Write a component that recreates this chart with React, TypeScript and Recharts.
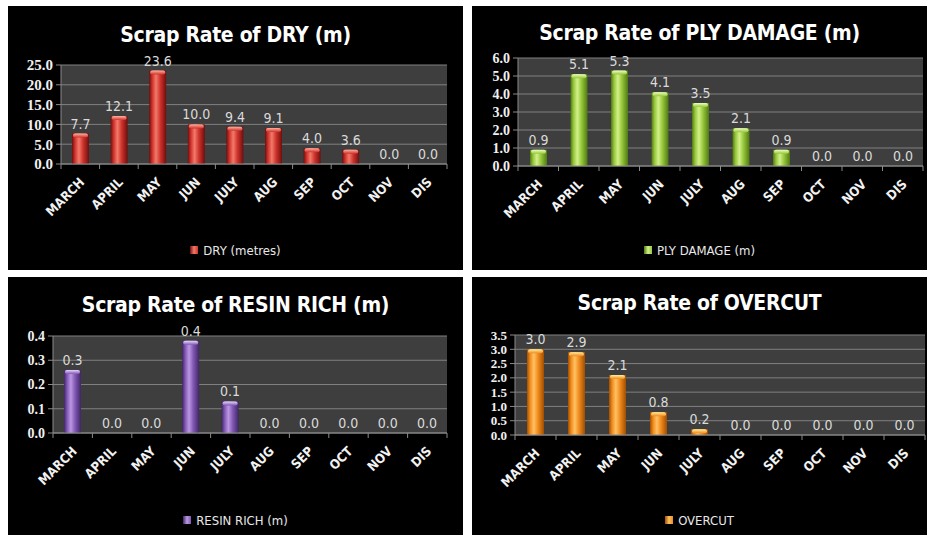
import React from "react";
import {
  BarChart,
  Bar,
  XAxis,
  YAxis,
  CartesianGrid,
  LabelList,
} from "recharts";

const months = ["MARCH", "APRIL", "MAY", "JUN", "JULY", "AUG", "SEP", "OCT", "NOV", "DIS"];

const dryValues = [7.7, 12.1, 23.6, 10.0, 9.4, 9.1, 4.0, 3.6, 0, 0];
const plyValues = [0.9, 5.1, 5.3, 4.1, 3.5, 2.1, 0.9, 0, 0, 0];
const resinValues = [0.26, 0, 0, 0.38, 0.13, 0, 0, 0, 0, 0];
const overcutValues = [3.0, 2.9, 2.1, 0.8, 0.2, 0, 0, 0, 0, 0];

const dryTicks = [0, 5, 10, 15, 20, 25];
const plyTicks = [0, 1, 2, 3, 4, 5, 6];
const resinTicks = [0, 0.1, 0.2, 0.3, 0.4];
const overcutTicks = [0, 0.5, 1, 1.5, 2, 2.5, 3, 3.5];

const titles = [
  "Scrap Rate of DRY (m)",
  "Scrap Rate of PLY DAMAGE (m)",
  "Scrap Rate of RESIN RICH (m)",
  "Scrap Rate of OVERCUT",
];
const legendNames = ["DRY (metres)", "PLY DAMAGE (m)", "RESIN RICH (m)", "OVERCUT"];

const SANS = "DejaVu Sans Condensed, Liberation Sans, sans-serif";
const SERIF = "Liberation Serif, DejaVu Serif, serif";

const palettes = {
  red: { dark: "#6e0e0c", mid: "#cf332c", light: "#f27a6a", cap: "#ffb0a0" },
  green: { dark: "#4f7a12", mid: "#96c63a", light: "#d2f08a", cap: "#eeffc0" },
  purple: { dark: "#3f2664", mid: "#8258b4", light: "#bc98e2", cap: "#e8d4ff" },
  orange: { dark: "#a04e00", mid: "#f08a1c", light: "#ffc264", cap: "#fff0a0" },
};

type Pal = keyof typeof palettes;

const GradientDefs = ({ id, pal }: { id: string; pal: Pal }) => {
  const c = palettes[pal];
  return (
    <defs>
      <linearGradient id={`${id}-body`} x1="0" y1="0" x2="1" y2="0">
        <stop offset="0%" stopColor={c.dark} />
        <stop offset="18%" stopColor={c.mid} />
        <stop offset="40%" stopColor={c.light} />
        <stop offset="65%" stopColor={c.mid} />
        <stop offset="100%" stopColor={c.dark} />
      </linearGradient>
      <linearGradient id={`${id}-cap`} x1="0" y1="0" x2="0" y2="1">
        <stop offset="0%" stopColor={c.cap} />
        <stop offset="100%" stopColor={c.mid} />
      </linearGradient>
    </defs>
  );
};

const makeBarShape = (id: string) => (props: any) => {
  const { x, y, width, height } = props;
  if (!height || height <= 0) return <g />;
  const cap = Math.min(4, height);
  return (
    <g>
      <rect x={x} y={y} width={width} height={height} fill={`url(#${id}-body)`} />
      <rect x={x + 1} y={y} width={width - 2} height={cap} rx={2} fill={`url(#${id}-cap)`} />
    </g>
  );
};

const makeMonthTick = (bw: number, count: number) => (props: any) => {
  const { x, y, payload, index } = props;
  const tx = x + 5;
  const ty = y + 12;
  return (
    <g>
      <line x1={x - bw / 2} x2={x - bw / 2} y1={y - 7} y2={y - 2} stroke="#8a8a8a" />
      {index === count - 1 && (
        <line x1={x + bw / 2} x2={x + bw / 2} y1={y - 7} y2={y - 2} stroke="#8a8a8a" />
      )}
      <text
        x={tx}
        y={ty}
        transform={`rotate(-45, ${tx}, ${ty})`}
        textAnchor="end"
        fill="#f2f2f2"
        fontFamily={SANS}
        fontWeight="bold"
        fontSize={13}
      >
        {payload.value}
      </text>
    </g>
  );
};

type PanelProps = {
  idx: number;
  left: number;
  top: number;
  width: number;
  height: number;
  values: number[];
  ticks: number[];
  pal: Pal;
  plot: { l: number; t: number; r: number; b: number };
  titleY: number;
  legendY: number;
  yFont: number;
};

function Panel(p: PanelProps) {
  const id = `g${p.idx}`;
  const data = months.map((m, i) => ({ month: m, value: p.values[i] }));
  const xAxisHeight = 60;
  const plotW = p.plot.r - p.plot.l;
  const bw = plotW / months.length;
  const c = palettes[p.pal];
  return (
    <div
      style={{
        position: "absolute",
        left: p.left,
        top: p.top,
        width: p.width,
        height: p.height,
        background: "#000",
        overflow: "hidden",
      }}
    >
      <div
        style={{
          position: "absolute",
          left: 0,
          width: p.width,
          top: p.titleY - 14,
          lineHeight: "28px",
          textAlign: "center",
          color: "#fff",
          fontFamily: SANS,
          fontWeight: "bold",
          fontSize: 21,
          letterSpacing: -0.3,
        }}
      >
        {titles[p.idx]}
      </div>
      <BarChart
        width={p.width}
        height={p.height}
        data={data}
        margin={{
          top: p.plot.t,
          right: p.width - p.plot.r,
          left: 0,
          bottom: p.height - p.plot.b - xAxisHeight,
        }}
      >
        <GradientDefs id={id} pal={p.pal} />
        <CartesianGrid vertical={false} fill="#3e3e3e" stroke="#808080" />
        <XAxis
          dataKey="month"
          height={xAxisHeight}
          interval={0}
          tickSize={5}
          tickMargin={2}
          tickLine={false}
          axisLine={{ stroke: "#8a8a8a" }}
          tick={makeMonthTick(bw, months.length)}
        />
        <YAxis
          width={p.plot.l}
          domain={[p.ticks[0], p.ticks[p.ticks.length - 1]]}
          ticks={p.ticks}
          interval={0}
          tickSize={5}
          tickMargin={3}
          axisLine={{ stroke: "#8a8a8a" }}
          tickLine={{ stroke: "#8a8a8a" }}
          tickFormatter={(v: number) => v.toFixed(1)}
          tick={{ fill: "#f0f0f0", fontFamily: SERIF, fontWeight: "bold", fontSize: p.yFont }}
        />
        <Bar
          dataKey="value"
          isAnimationActive={false}
          fill={c.mid}
          barSize={17}
          shape={makeBarShape(id)}
        >
          <LabelList
            dataKey="value"
            position="top"
            offset={5}
            formatter={(v: any) => Number(v).toFixed(1)}
            fill="#dadada"
            fontFamily={SANS}
            fontSize={14}
          />
        </Bar>
      </BarChart>
      <div
        style={{
          position: "absolute",
          left: 0,
          width: p.width,
          top: p.legendY - 8,
          height: 16,
          display: "flex",
          alignItems: "center",
          justifyContent: "center",
          gap: 5,
          color: "#e8e8e8",
          fontFamily: SANS,
          fontSize: 13,
        }}
      >
        <span
          style={{
            display: "inline-block",
            width: 8,
            height: 8,
            background: `linear-gradient(to right, ${c.dark}, ${c.light}, ${c.mid})`,
          }}
        />
        <span>{legendNames[p.idx]}</span>
      </div>
    </div>
  );
}

export default function App() {
  return (
    <div style={{ position: "absolute", left: 0, top: 0, width: 927, height: 535, background: "#fff" }}>
      <Panel
        idx={0}
        left={8}
        top={6}
        width={455}
        height={264}
        values={dryValues}
        ticks={dryTicks}
        pal="red"
        plot={{ l: 53, t: 59, r: 439, b: 158 }}
        titleY={29}
        legendY={244}
        yFont={15}
      />
      <Panel
        idx={1}
        left={472}
        top={6}
        width={455}
        height={264}
        values={plyValues}
        ticks={plyTicks}
        pal="green"
        plot={{ l: 46, t: 52, r: 451, b: 160 }}
        titleY={27}
        legendY={244}
        yFont={14}
      />
      <Panel
        idx={2}
        left={8}
        top={277}
        width={455}
        height={258}
        values={resinValues}
        ticks={resinTicks}
        pal="purple"
        plot={{ l: 45, t: 59, r: 439, b: 156 }}
        titleY={28}
        legendY={243}
        yFont={14}
      />
      <Panel
        idx={3}
        left={472}
        top={277}
        width={455}
        height={258}
        values={overcutValues}
        ticks={overcutTicks}
        pal="orange"
        plot={{ l: 43, t: 58, r: 453, b: 158 }}
        titleY={26}
        legendY={243}
        yFont={13}
      />
    </div>
  );
}
